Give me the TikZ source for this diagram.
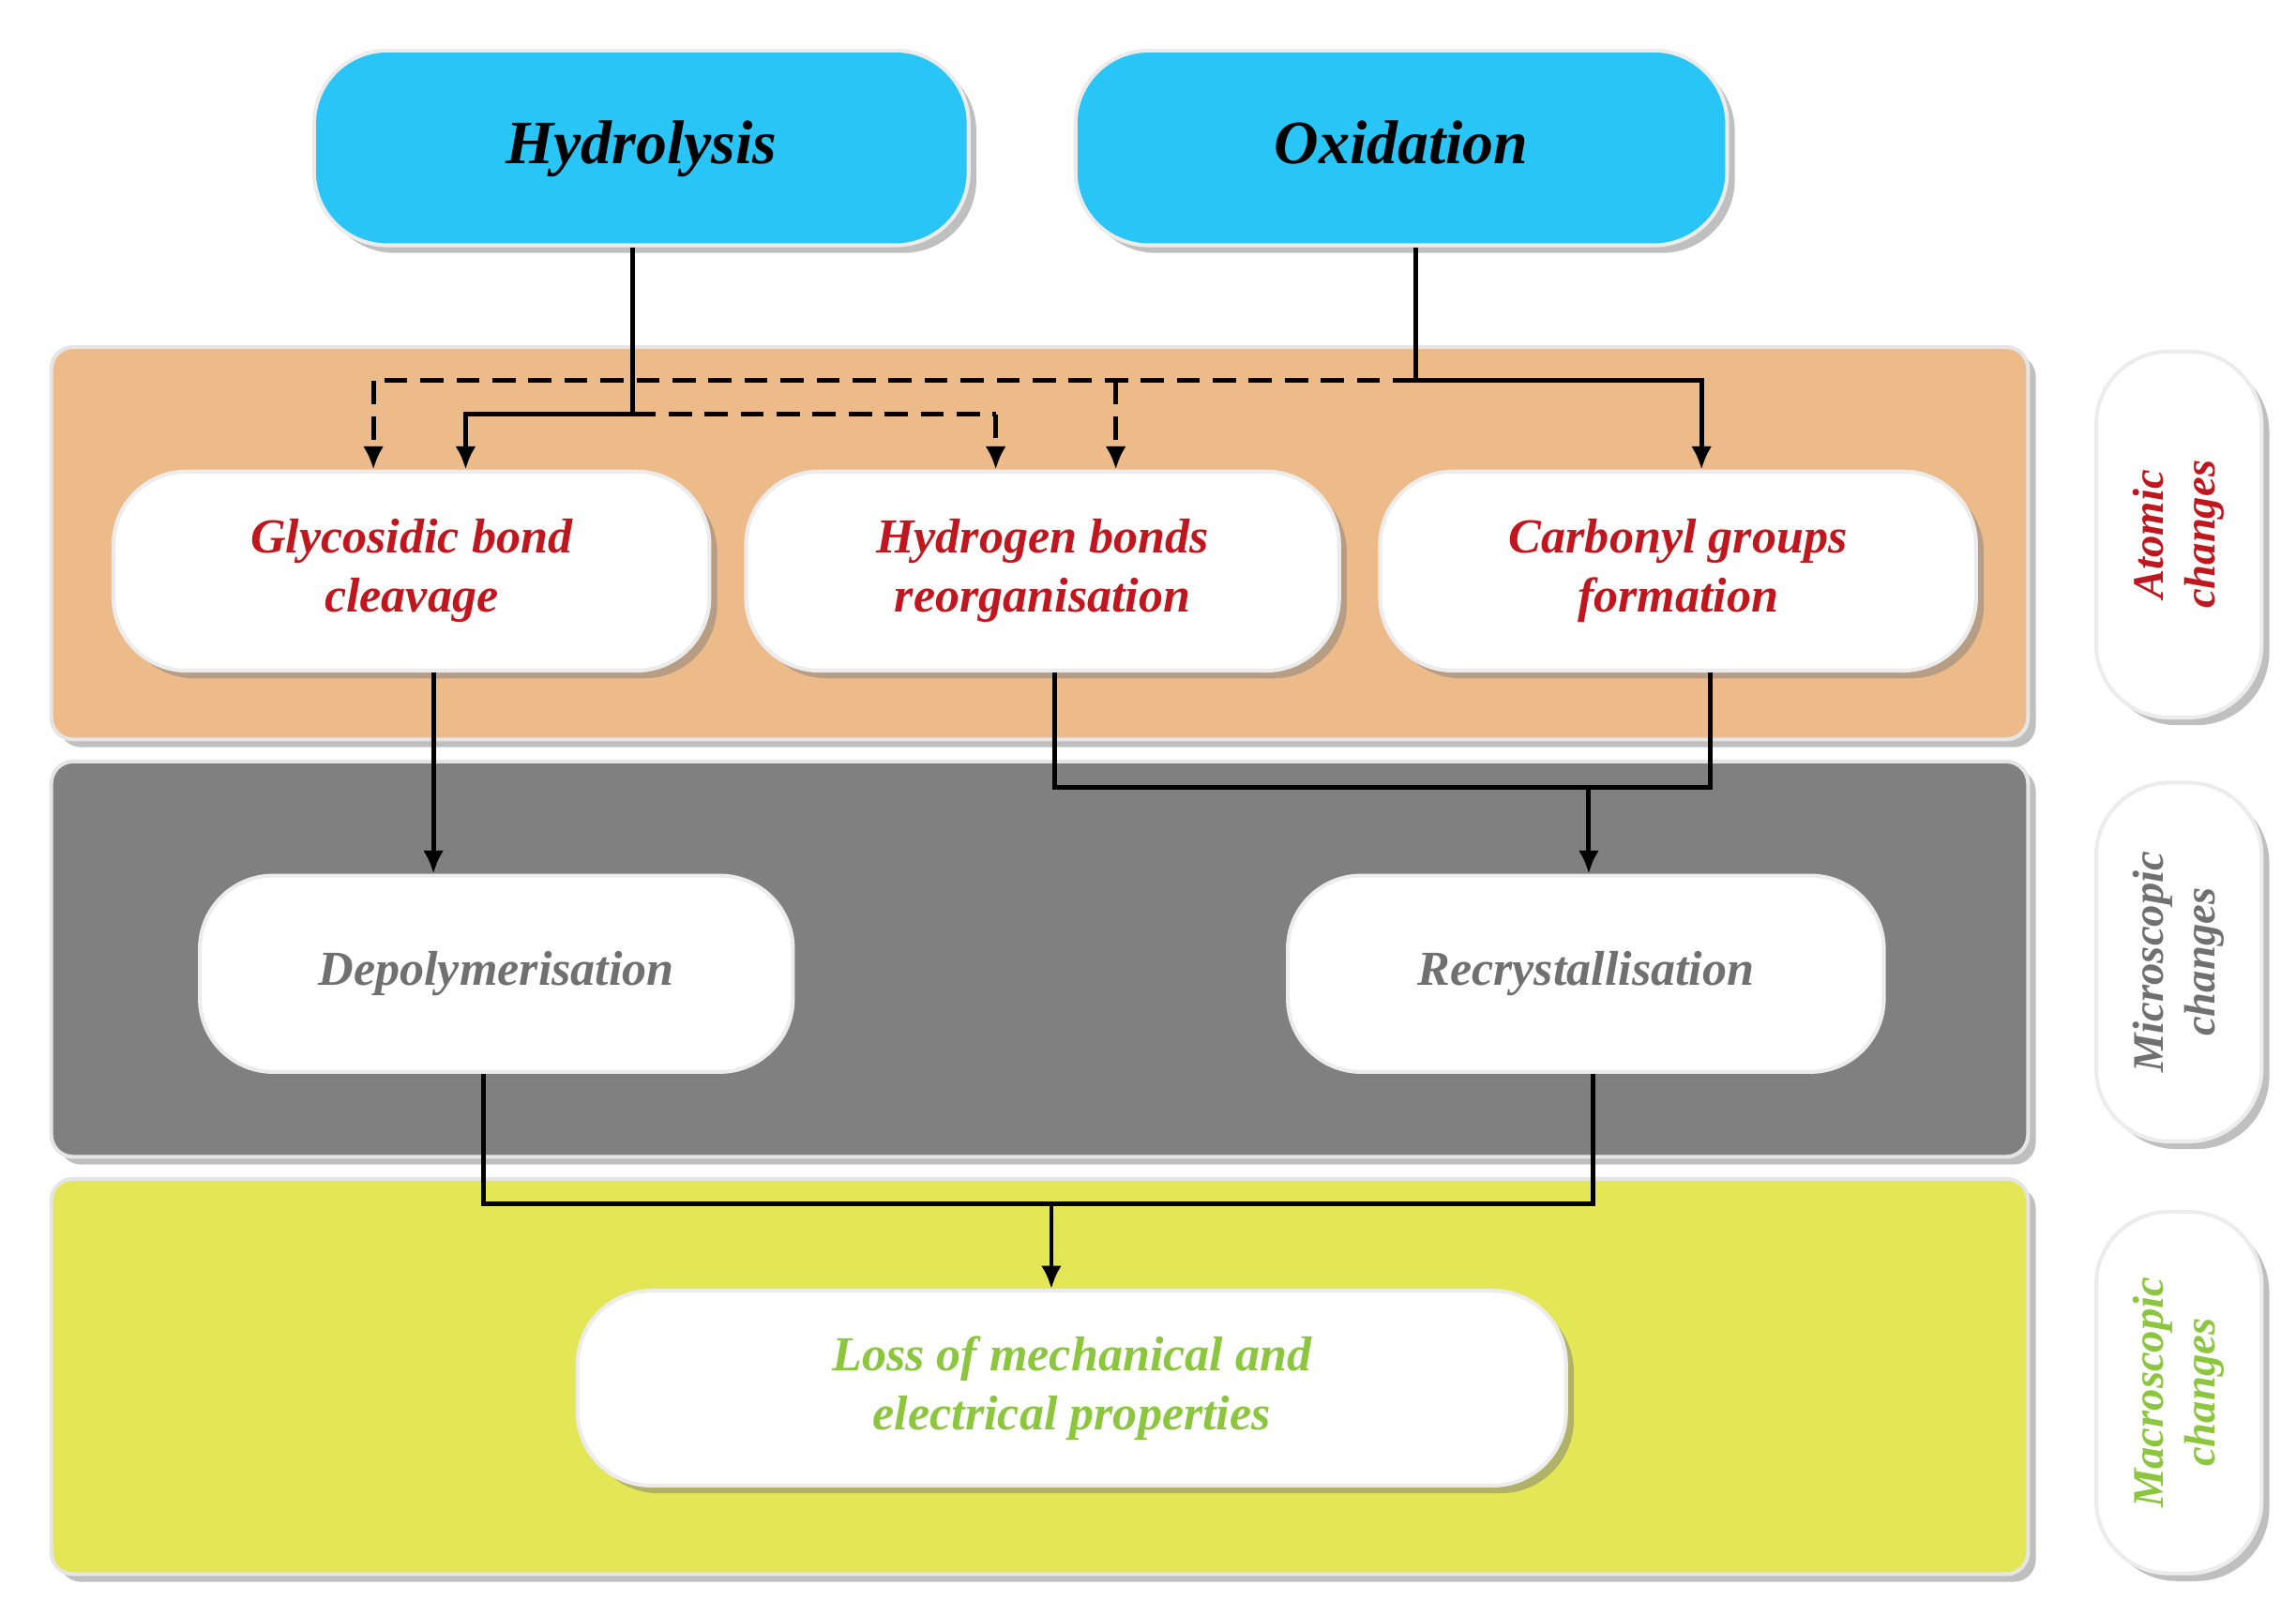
\documentclass[tikz,border=0pt]{standalone}
\usepackage{fontspec}
\setmainfont{Liberation Serif}
\usetikzlibrary{shadows,arrows.meta}
\definecolor{cyanb}{HTML}{29C5F6}
\definecolor{peach}{HTML}{EDBB8A}
\definecolor{grayb}{HTML}{808080}
\definecolor{yel}{HTML}{E3E655}
\definecolor{redt}{HTML}{C0161E}
\definecolor{grayt}{HTML}{707070}
\definecolor{greent}{HTML}{8CC63F}
\begin{document}
\begin{tikzpicture}[x=0.02cm,y=-0.02cm,
  box/.style={draw=white!85!gray,line width=1.5pt,fill=white,rounded corners=1cm,drop shadow={shadow xshift=3pt,shadow yshift=-3pt,opacity=.5},align=center,inner sep=0pt,font=\fontsize{19}{23}\selectfont\bfseries\itshape},
  top/.style={box,fill=cyanb,text height=17pt,text depth=5pt,font=\fontsize{24}{28}\selectfont\bfseries\itshape},
  band/.style={draw=white!80!gray,line width=1.5pt,rounded corners=0.3cm,drop shadow={shadow xshift=3pt,shadow yshift=-3pt,opacity=.5},inner sep=0pt},
  side/.style={box,rounded corners=1cm,minimum height=113*0.02cm,font=\fontsize{17}{20}\selectfont\bfseries\itshape},
  ar/.style={line width=1.8pt,-{Latex[length=9pt,width=8pt]}},
  ln/.style={line width=1.8pt},
  da/.style={line width=1.8pt,dashed,dash pattern=on 9pt off 5pt}]
\useasboundingbox (0,0) rectangle (1568,1103);
% bands
\node[band,fill=peach,minimum width=1350*0.02cm,minimum height=268*0.02cm] (b1) at (710,371) {};
\node[band,fill=grayb,minimum width=1350*0.02cm,minimum height=270*0.02cm] (b2) at (710,655) {};
\node[band,fill=yel,minimum width=1350*0.02cm,minimum height=270*0.02cm] (b3) at (710,940) {};
% top
\node[top,minimum width=447*0.02cm,minimum height=133*0.02cm] (h) at (438,101) {Hydrolysis};
\node[top,minimum width=445*0.02cm,minimum height=133*0.02cm] (o) at (957,101) {Oxidation};
% atomic
\node[box,text=redt,minimum width=407*0.02cm,minimum height=136*0.02cm] (g) at (281,390) {Glycosidic bond\\cleavage};
\node[box,text=redt,minimum width=405*0.02cm,minimum height=136*0.02cm] (y) at (712,390) {Hydrogen bonds\\reorganisation};
\node[box,text=redt,minimum width=407*0.02cm,minimum height=136*0.02cm] (c) at (1146,390) {Carbonyl groups\\formation};
% micro
\node[box,text=grayt,minimum width=405*0.02cm,minimum height=134*0.02cm] (d) at (339,665) {Depolymerisation};
\node[box,text=grayt,minimum width=407*0.02cm,minimum height=134*0.02cm] (r) at (1083,665) {Recrystallisation};
% macro
\node[box,text=greent,minimum width=675*0.02cm,minimum height=133*0.02cm] (l) at (732,948) {Loss of mechanical and\\electrical properties};
% side
\node[side,text=redt,rotate=90,minimum width=250*0.02cm] (s1) at (1488,365) {Atomic\\changes};
\node[side,text=grayt,rotate=90,minimum width=245*0.02cm] (s2) at (1488,657) {Microscopic\\changes};
\node[side,text=greent,rotate=90,minimum width=247*0.02cm] (s3) at (1488,951) {Macroscopic\\changes};
% connectors
\draw[da] (432,283) -- (680,283);
\draw[da,-{Latex[length=9pt,width=8pt]}] (680,283) -- (680,283 |- y.north);
\draw[ar] (h.south -| 432,0) |- (318,283) -- (318,283 |- g.north);
\draw[da] (967,260) -- (255,260);
\draw[da,-{Latex[length=9pt,width=8pt]}] (255,260) -- (255,260 |- g.north);
\draw[da,-{Latex[length=9pt,width=8pt]}] (762,260) -- (762,260 |- y.north);
\draw[ar] (o.south -| 967,0) |- (1162,260) -- (1162,260 |- c.north);
\draw[ar] (g.south -| 296,0) -- (296,0 |- d.north);
\draw[ln] (y.south -| 720,0) |- (1168,538) -- (c.south -| 1168,0);
\draw[ar] (1085,538) -- (1085,0 |- r.north);
\draw[ln] (d.south -| 330,0) |- (1088,822) -- (r.south -| 1088,0);
\draw[ar] (718,822) -- (718,0 |- l.north);
\end{tikzpicture}
\end{document}
